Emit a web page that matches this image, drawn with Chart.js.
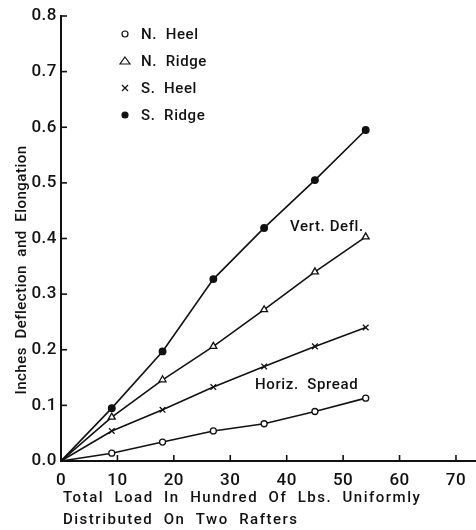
<!DOCTYPE html>
<html>
<head>
<meta charset="utf-8">
<script src="https://cdn.jsdelivr.net/npm/chart.js@4.4.0/dist/chart.umd.min.js"></script>
<style>
  html, body { margin: 0; padding: 0; background: #fff; }
</style>
</head>
<body>
<canvas id="loadChart" width="476" height="530"></canvas>
<script>
// Load in hundreds of lbs, and measured deflection / elongation (inches)
const loads = [0, 9, 18, 27, 36, 45, 54];
const nHeel = [0, 0.014, 0.034, 0.054, 0.067, 0.089, 0.113];
const nRidge = [0, 0.079, 0.146, 0.206, 0.272, 0.340, 0.403];
const sHeel = [0, 0.054, 0.092, 0.133, 0.170, 0.206, 0.240];
const sRidge = [0, 0.095, 0.197, 0.327, 0.419, 0.505, 0.595];

const seriesNames = ["N.  Heel", "N.  Ridge", "S.  Heel", "S.  Ridge"];
const xTicks = [0, 10, 20, 30, 40, 50, 60, 70];
const yTicks = [0, 0.1, 0.2, 0.3, 0.4, 0.5, 0.6, 0.7, 0.8];

const xTitle = ["Total  Load  In  Hundred  Of  Lbs.  Uniformly", "Distributed  On  Two  Rafters"];
const yTitle = "Inches  Deflection  and  Elongation";

const FONT = "Roboto, 'Liberation Sans', sans-serif";

function toPoints(values) {
  return loads.map((x, i) => ({ x: x, y: values[i] }));
}

function markerSizes(r) {
  return loads.map((x) => (x === 0 ? 0 : r));
}

function series(label, values, style, radius, fill) {
  return {
    label: label,
    data: toPoints(values),
    borderColor: "#111",
    borderWidth: 1.6,
    pointStyle: style,
    pointRadius: markerSizes(radius),
    pointBackgroundColor: fill,
    pointBorderColor: "#111",
    pointBorderWidth: 1.3,
    tension: 0,
    fill: false,
  };
}

// draws inward tick marks, legend, curve notes and axis titles
const extras = {
  id: "extras",
  beforeDraw(chart) {
    chart.ctx.letterSpacing = "0.5px";
  },
  afterDraw(chart) {
    const ctx = chart.ctx;
    const xs = chart.scales.x;
    const ys = chart.scales.y;
    const area = chart.chartArea;
    ctx.save();
    ctx.strokeStyle = "#111";
    ctx.lineWidth = 1.6;
    xs.ticks.forEach((t) => {
      const px = xs.getPixelForValue(t.value);
      ctx.beginPath();
      ctx.moveTo(px, area.bottom);
      ctx.lineTo(px, area.bottom - 6);
      ctx.stroke();
    });
    ys.ticks.forEach((t) => {
      const py = ys.getPixelForValue(t.value);
      ctx.beginPath();
      ctx.moveTo(area.left, py);
      ctx.lineTo(area.left + 6, py);
      ctx.stroke();
    });

    // legend
    ctx.fillStyle = "#111";
    ctx.font = "500 15px " + FONT;
    ctx.textBaseline = "middle";
    ctx.letterSpacing = "0.6px";
    chart.data.datasets.forEach((ds, i) => {
      const y = 34 + i * 27;
      const x = 125;
      ctx.lineWidth = 1.2;
      ctx.beginPath();
      if (ds.pointStyle === "circle") {
        ctx.arc(x, y, 3, 0, Math.PI * 2);
        ctx.fillStyle = ds.pointBackgroundColor;
        ctx.fill();
        ctx.stroke();
      } else if (ds.pointStyle === "triangle") {
        ctx.moveTo(x, y - 4);
        ctx.lineTo(x + 5, y + 3);
        ctx.lineTo(x - 5, y + 3);
        ctx.closePath();
        ctx.stroke();
      } else {
        ctx.moveTo(x - 3, y - 3);
        ctx.lineTo(x + 3, y + 3);
        ctx.moveTo(x + 3, y - 3);
        ctx.lineTo(x - 3, y + 3);
        ctx.stroke();
      }
      ctx.fillStyle = "#111";
      ctx.textAlign = "left";
      ctx.fillText(ds.label, 141, y + 1);
    });

    // curve notes
    ctx.fillText("Vert. Defl.", xs.getPixelForValue(40.6), ys.getPixelForValue(0.42));
    ctx.fillText("Horiz.  Spread", xs.getPixelForValue(34.4), ys.getPixelForValue(0.137));

    // x title, left aligned
    ctx.letterSpacing = "1.5px";
    xTitle.forEach((line, i) => {
      ctx.fillText(line, area.left + 2, 498 + i * 22);
    });

    // y title
    ctx.letterSpacing = "0.5px";
    ctx.translate(22, 270);
    ctx.rotate(-Math.PI / 2);
    ctx.textAlign = "center";
    ctx.fillText(yTitle, 0, 0);
    ctx.restore();
    ctx.letterSpacing = "0px";
  },
};

new Chart(document.getElementById("loadChart"), {
  type: "line",
  data: {
    datasets: [
      series(seriesNames[0], nHeel, "circle", 3, "#fff"),
      series(seriesNames[1], nRidge, "triangle", 4, "#fff"),
      series(seriesNames[2], sHeel, "crossRot", 4, "#fff"),
      series(seriesNames[3], sRidge, "circle", 3.3, "#111"),
    ],
  },
  options: {
    responsive: false,
    animation: false,
    layout: { autoPadding: false, padding: { top: 16, right: 0, left: 0, bottom: 0 } },
    plugins: {
      legend: { display: false },
      tooltip: { enabled: false },
    },
    scales: {
      x: {
        type: "linear",
        min: 0,
        max: 73.55,
        afterBuildTicks: (axis) => {
          axis.ticks = xTicks.map((v) => ({ value: v }));
        },
        afterFit: (scale) => {
          scale.height = 69;
          scale.paddingLeft = 0;
          scale.paddingRight = 0;
        },
        grid: { display: false, drawTicks: false },
        border: { display: true, color: "#111", width: 2 },
        ticks: {
          color: "#111",
          padding: 10,
          maxRotation: 0,
          font: { family: FONT, size: 17, weight: "500" },
          callback: (v) => String(v),
        },
      },
      y: {
        type: "linear",
        min: 0,
        max: 0.8,
        afterBuildTicks: (axis) => {
          axis.ticks = yTicks.map((v) => ({ value: v }));
        },
        afterFit: (scale) => {
          scale.width = 61;
        },
        grid: { display: false, drawTicks: false },
        border: { display: true, color: "#111", width: 2 },
        ticks: {
          color: "#111",
          padding: 4,
          font: { family: FONT, size: 17, weight: "500" },
          callback: (v) => v.toFixed(1),
        },
      },
    },
  },
  plugins: [extras],
});
</script>
</body>
</html>
